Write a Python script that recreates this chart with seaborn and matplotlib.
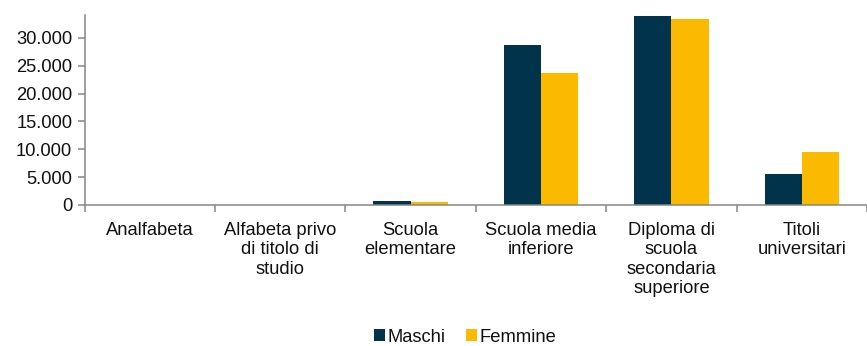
import matplotlib
matplotlib.use("Agg")
import matplotlib.pyplot as plt
import matplotlib.ticker as mticker
from matplotlib.patches import Patch
import numpy as np
import pandas as pd
import seaborn as sns

# Titolo di studio per sesso
categorie = [
    "Analfabeta",
    "Alfabeta privo\ndi titolo di\nstudio",
    "Scuola\nelementare",
    "Scuola media\ninferiore",
    "Diploma di\nscuola\nsecondaria\nsuperiore",
    "Titoli\nuniversitari",
]
maschi = [40, 70, 720, 28700, 33900, 5550]
femmine = [30, 50, 540, 23700, 33350, 9520]
serie = ["Maschi", "Femmine"]
colori = ["#01334c", "#fbba00"]
y_ticks = [0, 5000, 10000, 15000, 20000, 25000, 30000]

df = pd.DataFrame({
    "categoria": categorie * 2,
    "valore": maschi + femmine,
    "sesso": [serie[0]] * len(categorie) + [serie[1]] * len(categorie),
})

sns.set_theme(style="white")
plt.rcParams["font.family"] = ["Liberation Sans", "DejaVu Sans"]

FS = 13.2
TXT = "#111111"

fig = plt.figure(figsize=(8.67, 3.46), dpi=100)
ax = fig.add_axes([84.7 / 867, 1 - 205 / 346, 1 - 84.7 / 867, (205 - 15) / 346])

sns.barplot(data=df, x="categoria", y="valore", hue="sesso",
            palette=colori, width=0.572, saturation=1, legend=False,
            linewidth=0, ax=ax)

ax.set_xlim(-0.5, (867 - 84.7) / 131.3 - 0.5)
ax.set_ylim(0, 34130)
ax.set_yticks(y_ticks)
ax.yaxis.set_major_formatter(
    mticker.FuncFormatter(lambda v, p: f"{int(v):,}".replace(",", ".")))

gray = "#868686"
for side in ["top", "right"]:
    ax.spines[side].set_visible(False)
for side in ["left", "bottom"]:
    ax.spines[side].set_color(gray)
    ax.spines[side].set_linewidth(1.1)

ax.set_xlabel("")
ax.set_ylabel("")
ax.tick_params(axis="y", which="major", left=True, length=5, width=1.1,
               color=gray, labelsize=FS, labelcolor=TXT, pad=4)
# category labels without marks; boundary marks as minor ticks
ax.set_xticks(range(len(categorie)))
ax.set_xticklabels(categorie, linespacing=1.2)
ax.tick_params(axis="x", which="major", bottom=False, length=0,
               labelsize=FS, labelcolor=TXT, pad=12)
ax.set_xticks(np.arange(-0.5, len(categorie) + 0.5, 1), minor=True)
ax.tick_params(axis="x", which="minor", bottom=True, length=5, width=1.1,
               color=gray)

handles = [Patch(facecolor=c, edgecolor="none", label=s) for c, s in zip(colori, serie)]
fig.legend(handles=handles, loc="center", bbox_to_anchor=(465 / 867, 0.026),
           ncol=2, frameon=False, fontsize=FS, handlelength=0.6,
           handleheight=0.6, handletextpad=0.15, columnspacing=1.1,
           borderpad=0, labelcolor=TXT)

fig.savefig("out.png", dpi=100)
